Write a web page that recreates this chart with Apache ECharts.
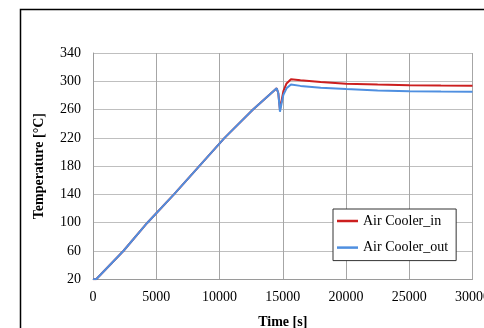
<!DOCTYPE html>
<html>
<head>
<meta charset="utf-8">
<script src="https://cdn.jsdelivr.net/npm/echarts@6/dist/echarts.min.js"></script>
<style>html,body{margin:0;padding:0;background:#fff}#c{width:484px;height:328px}</style>
</head>
<body>
<div id="c"></div>
<script>
var timeS = [0, 250, 2400, 4300, 6400, 8400, 10400, 12650, 14520, 14650, 14780, 14900, 15050, 15300, 15650, 16400, 18000, 20000, 22500, 25000, 27500, 30000];
var airCoolerIn = [20, 20, 60, 100, 140, 180, 220, 260, 290, 283, 260, 272, 286, 297, 303, 301.5, 299, 296.5, 295.3, 294.5, 294, 293.7];
var airCoolerOut = [20, 20, 60, 100, 140, 180, 220, 260, 290, 283, 257, 268, 281, 290, 295.5, 293.5, 291, 289, 287, 286, 285.5, 285.2];
var seriesNames = ['Air Cooler_in', 'Air Cooler_out'];

function pairs(xs, ys){ return xs.map(function(x,i){ return [x, ys[i]]; }); }

var font = 'Liberation Serif';
var chart = echarts.init(document.getElementById('c'), null, {renderer:'canvas'});
chart.setOption({
  animation: false,
  backgroundColor: '#fff',
  textStyle: {fontFamily: font},
  graphic: [{
    type: 'rect', z: 100, silent: true,
    shape: {x: 20.5, y: 9.5, width: 600, height: 500},
    style: {fill: 'none', stroke: '#000', lineWidth: 1.5}
  }],
  grid: {left: 93, top: 53, right: 11.5, bottom: 48.7, containLabel: false, outerBoundsMode: 'none'},
  legend: {
    orient: 'vertical', left: 333, top: 209,
    data: seriesNames,
    icon: 'rect',
    backgroundColor: '#fff', borderColor: '#333', borderWidth: 1,
    padding: [5, 8, 6, 4], itemGap: 12.6, itemWidth: 21, itemHeight: 2.5,
    textStyle: {fontFamily: font, fontSize: 14, color: '#000', lineHeight: 14}
  },
  xAxis: {
    type: 'value', min: 0, max: 30000, interval: 5000,
    name: 'Time [s]', nameLocation: 'middle', nameGap: 36,
    nameTextStyle: {fontFamily: font, fontSize: 14, fontWeight: 'bold', color: '#000'},
    axisLine: {show: true, lineStyle: {color: '#9a9a9a', width: 1}},
    axisTick: {show: false},
    axisLabel: {fontFamily: font, fontSize: 14, color: '#000', margin: 11,
      formatter: function(v){ return String(v); }},
    splitLine: {show: true, lineStyle: {color: '#a6a6a6', width: 1}}
  },
  yAxis: {
    type: 'value', min: 20, max: 340, interval: 40,
    name: 'Temperature [°C]', nameLocation: 'middle', nameGap: 47,
    nameTextStyle: {fontFamily: font, fontSize: 14, fontWeight: 'bold', color: '#000'},
    axisLine: {show: true, lineStyle: {color: '#9a9a9a', width: 1}},
    axisTick: {show: false},
    axisLabel: {fontFamily: font, fontSize: 14, color: '#000', margin: 12},
    splitLine: {show: true, lineStyle: {color: '#bfbfbf', width: 1}}
  },
  series: [
    {name: seriesNames[0], type: 'line', data: pairs(timeS, airCoolerIn), symbol: 'none',
     lineStyle: {color: '#cc1f1f', width: 2}, itemStyle: {color: '#cc1f1f'}, z: 2},
    {name: seriesNames[1], type: 'line', data: pairs(timeS, airCoolerOut), symbol: 'none',
     lineStyle: {color: '#4f8fe0', width: 2}, itemStyle: {color: '#4f8fe0'}, z: 3}
  ]
});
</script>
</body>
</html>
